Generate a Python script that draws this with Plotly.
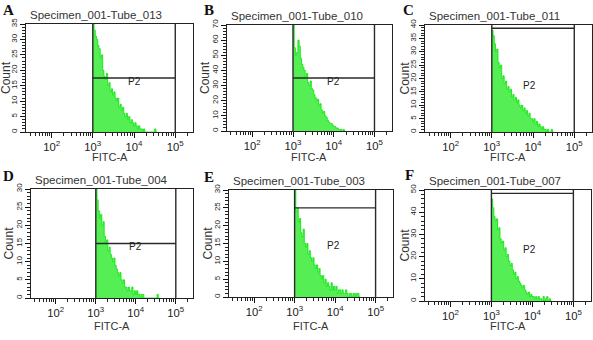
import numpy as np
import plotly.graph_objects as go

W, H = 593, 340

# ---------------- data ----------------
panel_letters = ["A", "B", "C", "D", "E", "F"]
titles = ["Specimen_001-Tube_013", "Specimen_001-Tube_010", "Specimen_001-Tube_011",
          "Specimen_001-Tube_004", "Specimen_001-Tube_003", "Specimen_001-Tube_007"]

bin_log_start = 3.0     # histogram starts at 10^3
bin_log_width = 0.03    # bin width in decades

counts_A = [35, 33, 31, 30, 28, 27, 24, 25, 20, 18, 17, 19, 15, 16, 13, 14, 12, 13, 11, 10,
            11, 8, 9, 7, 8, 6, 5, 6, 4, 5, 3, 4, 3, 2, 3, 2, 1, 2, 1, 1,
            0, 1, 0, 0, 0, 0, 0, 0, 0, 0, 1, 0]
counts_B = [70, 55, 50, 52, 60, 56, 48, 44, 42, 40, 36, 38, 32, 30, 33, 28, 27, 24, 22, 20,
            21, 17, 18, 14, 12, 13, 10, 9, 7, 6, 5, 5, 4, 3, 3, 2, 2, 1, 1, 1,
            0, 1, 0]
counts_C = [38, 36, 33, 30, 31, 26, 24, 25, 20, 21, 18, 19, 16, 17, 15, 16, 13, 14, 12, 13,
            11, 12, 10, 9, 10, 8, 9, 7, 8, 6, 7, 5, 5, 4, 5, 3, 4, 2, 3, 2,
            1, 2, 1, 1, 0, 1, 0, 0, 1, 0]
counts_D = [30, 27, 24, 22, 23, 20, 21, 17, 15, 16, 13, 14, 12, 11, 10, 11, 9, 8, 7, 6,
            7, 5, 4, 5, 3, 3, 2, 3, 2, 2, 3, 1, 2, 1, 2, 1, 1, 0, 1, 1,
            0, 0, 0, 0, 0, 0, 0, 0, 0, 0, 0, 1, 0]
counts_E = [30, 24, 25, 21, 22, 18, 17, 19, 15, 14, 15, 12, 13, 11, 10, 11, 9, 8, 9, 7,
            8, 6, 5, 6, 4, 5, 3, 4, 3, 2, 4, 2, 3, 2, 3, 1, 2, 2, 1, 2,
            1, 1, 2, 1, 0, 1, 1, 0, 1, 1, 0, 1, 1, 0]
counts_F = [46, 42, 38, 36, 37, 32, 33, 28, 26, 27, 23, 24, 20, 21, 18, 16, 17, 14, 12, 13,
            10, 11, 9, 8, 7, 6, 7, 5, 4, 3, 4, 2, 3, 2, 2, 1, 2, 1, 2, 1,
            1, 0, 2, 0, 1, 2, 0, 1, 0]
all_counts = [counts_A, counts_B, counts_C, counts_D, counts_E, counts_F]

y_max = [35, 70, 40, 30, 30, 50]
y_major = [5, 10, 5, 5, 5, 10]
y_minor = [1, 2, 1, 1, 1, 2]

gate_lo = 1e3
gate_hi = 1e5
gate_level = [17.5, 35, 38.8, 15, 25, 48.5]
p2_label_x = [1e4, 1e4, 8.3e3, 1e4, 9e3, 8.3e3]
p2_label_y = [16.5, 33, 17.5, 14.2, 14.5, 23]

x_log_range = [1.38, 5.43]

# ---------------- layout (pixel geometry) ----------------
plot_x = [(26, 193), (227, 392), (425, 592), (31, 193), (229, 393), (425, 591)]
plot_y = [(24, 132), (25, 131), (25, 132), (189, 298), (190, 297), (190, 301)]
letter_pos = [(8, 10), (209, 10), (408, 10), (8, 176), (209, 177), (409, 175)]
count_x = [6, 205, 404, 8, 207, 404]
fitc_y = [157, 157, 157, 326, 326, 326]


def px(x):
    return x / W


def py(y):
    return 1 - y / H


fig = go.Figure()
annotations = []
layout_axes = {}

for i in range(6):
    n = i + 1
    xa = "x" if n == 1 else f"x{n}"
    ya = "y" if n == 1 else f"y{n}"
    xkey = "xaxis" if n == 1 else f"xaxis{n}"
    ykey = "yaxis" if n == 1 else f"yaxis{n}"
    counts = all_counts[i]
    edges = 10 ** (bin_log_start + bin_log_width * np.arange(len(counts) + 1))
    yv = list(counts) + [0]

    fig.add_trace(go.Scatter(
        x=edges, y=yv, mode="lines", line=dict(shape="hv", color="rgb(0,230,0)", width=0.8),
        fill="tozeroy", fillcolor="rgb(85,238,85)", xaxis=xa, yaxis=ya,
        showlegend=False, hoverinfo="skip"))

    ym = y_max[i]
    fig.add_trace(go.Scatter(
        x=[gate_lo, gate_lo, None, gate_hi, gate_hi, None, gate_lo, gate_hi],
        y=[0, ym, None, 0, ym, None, gate_level[i], gate_level[i]],
        mode="lines", line=dict(color="#2a2a2a", width=1.4), xaxis=xa, yaxis=ya,
        showlegend=False, hoverinfo="skip", cliponaxis=False))

    x0, x1 = plot_x[i]
    y0, y1 = plot_y[i]
    layout_axes[xkey] = dict(
        domain=[px(x0), px(x1)], type="log", range=x_log_range, anchor=ya,
        tickmode="linear", tick0=0, dtick=1, exponentformat="power", showexponent="all",
        ticks="outside", ticklen=5, tickwidth=1.3, tickcolor="#111",
        minor=dict(dtick="D1", ticks="outside", ticklen=3, tickwidth=1.1, tickcolor="#222"),
        showline=True, linecolor="#222", linewidth=1, mirror=True,
        showgrid=False, zeroline=False, automargin=False,
        tickfont=dict(family="Arial", size=9, color="#222"))
    layout_axes[ykey] = dict(
        domain=[py(y1), py(y0)], range=[0, ym], anchor=xa,
        tickmode="linear", dtick=y_major[i], tick0=0, tickangle=-90,
        ticks="outside", ticklen=5, tickwidth=1.3, tickcolor="#111",
        minor=dict(dtick=y_minor[i], ticks="outside", ticklen=3, tickwidth=1.1, tickcolor="#222"),
        showline=True, linecolor="#222", linewidth=1, mirror=True,
        showgrid=False, zeroline=False, automargin=False,
        tickfont=dict(family="Arial", size=8, color="#222"))

    # panel letter
    lx, ly = letter_pos[i]
    annotations.append(dict(text=f"<b>{panel_letters[i]}</b>", x=px(lx), y=py(ly),
                            xref="paper", yref="paper", showarrow=False,
                            xanchor="center", yanchor="middle",
                            font=dict(family="Liberation Serif", size=15, color="#111")))
    # title
    annotations.append(dict(text=titles[i], x=px(x0 + 2), y=py(y0 - 1),
                            xref="paper", yref="paper", showarrow=False,
                            xanchor="left", yanchor="bottom",
                            font=dict(family="Arial", size=11.5, color="#333")))
    # Count
    annotations.append(dict(text="Count", x=px(count_x[i]), y=py((y0 + y1) / 2),
                            xref="paper", yref="paper", showarrow=False, textangle=-90,
                            xanchor="center", yanchor="middle",
                            font=dict(family="Arial", size=12, color="#333")))
    # FITC-A
    annotations.append(dict(text="FITC-A", x=px((x0 + x1) / 2), y=py(fitc_y[i]),
                            xref="paper", yref="paper", showarrow=False,
                            xanchor="center", yanchor="middle",
                            font=dict(family="Arial", size=11, color="#333")))
    # P2 label
    annotations.append(dict(text="P2", x=np.log10(p2_label_x[i]), y=p2_label_y[i],
                            xref=xa, yref=ya, showarrow=False,
                            xanchor="center", yanchor="middle",
                            font=dict(family="Arial", size=10, color="#222")))

fig.update_layout(
    width=W, height=H, margin=dict(l=0, r=0, t=0, b=0, autoexpand=False),
    paper_bgcolor="white", plot_bgcolor="white",
    annotations=annotations, showlegend=False, **layout_axes)

fig.write_html("out.html", config={"displayModeBar": False},
               post_script="document.body.style.margin='0';document.body.style.padding='0';")
